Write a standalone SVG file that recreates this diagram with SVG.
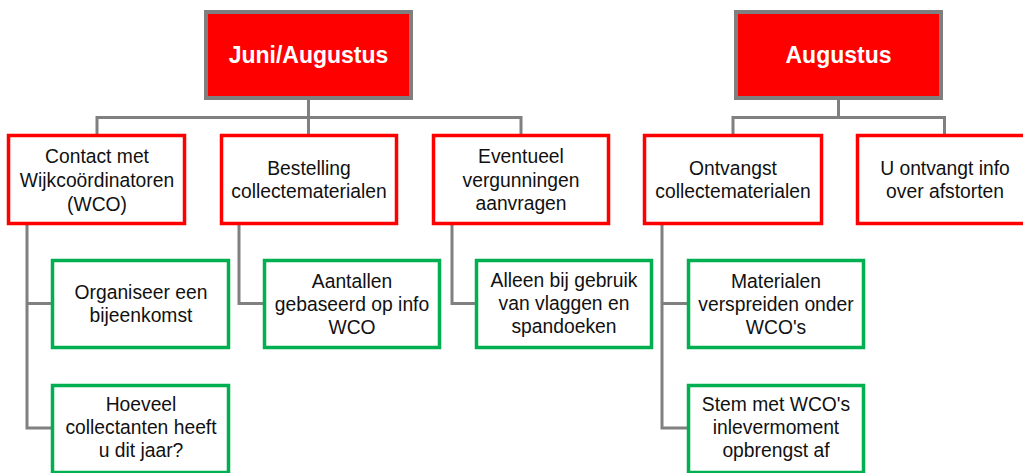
<svg xmlns="http://www.w3.org/2000/svg" width="1023" height="473" viewBox="0 0 1023 473">
<style>
.top{fill:#ff0000;stroke:#7f7f7f;stroke-width:4}
.red{fill:#ffffff;stroke:#ff0000;stroke-width:3.5}
.green{fill:#ffffff;stroke:#00b050;stroke-width:3.5}
.title{font-family:"Liberation Sans",Arial,sans-serif;font-weight:bold;font-size:23px;fill:#ffffff;text-anchor:middle}
.t{font-family:"Liberation Sans",Arial,sans-serif;font-size:19.3px;fill:#111111;text-anchor:middle}
.conn{fill:none;stroke:#808080;stroke-width:3}
</style>
<rect width="1023" height="473" fill="#ffffff"/>
<g id="connectors">
<path class="conn" d="M308.5 100 V117.5 M97 117.5 H521 M97 116 V134 M308.5 116 V134 M521 116 V134"/>
<path class="conn" d="M838.5 100 V117.5 M733 117.5 H944.5 M733 116 V134 M944.5 116 V134"/>
<path class="conn" d="M27 225 V428 H51 M27 303.5 H51"/>
<path class="conn" d="M239 225 V303.5 H263"/>
<path class="conn" d="M452 225 V303.5 H475"/>
<path class="conn" d="M662 225 V428 H687 M662 303.5 H687"/>
</g>
<g id="n-juni"><rect class="top" x="206" y="12" width="205" height="86"/><text class="title" x="308.5" y="63">Juni/Augustus</text></g>
<g id="n-augustus"><rect class="top" x="736" y="12" width="205" height="86"/><text class="title" x="838.5" y="63">Augustus</text></g>
<g id="n-contact"><rect class="red" x="8.5" y="135.5" width="176" height="88"/><text class="t" x="97" y="163">Contact met</text><text class="t" x="97" y="187">Wijkcoördinatoren</text><text class="t" x="97" y="211">(WCO)</text></g>
<g id="n-bestelling"><rect class="red" x="221.5" y="135.5" width="175" height="88"/><text class="t" x="309" y="175">Bestelling</text><text class="t" x="309" y="198">collectematerialen</text></g>
<g id="n-eventueel"><rect class="red" x="433.5" y="135.5" width="175" height="88"/><text class="t" x="521" y="163">Eventueel</text><text class="t" x="521" y="187">vergunningen</text><text class="t" x="521" y="210">aanvragen</text></g>
<g id="n-ontvangst"><rect class="red" x="644.5" y="135.5" width="177" height="88"/><text class="t" x="733" y="175">Ontvangst</text><text class="t" x="733" y="198">collectematerialen</text></g>
<g id="n-uontvangt"><rect class="red" x="857.5" y="135.5" width="176" height="88"/><text class="t" x="945" y="175">U ontvangt info</text><text class="t" x="945" y="198">over afstorten</text></g>
<g id="n-organiseer"><rect class="green" x="52.5" y="260.5" width="176" height="87"/><text class="t" x="141" y="299">Organiseer een</text><text class="t" x="141" y="322">bijeenkomst</text></g>
<g id="n-hoeveel"><rect class="green" x="52.5" y="385.5" width="176" height="87"/><text class="t" x="141" y="411">Hoeveel</text><text class="t" x="141" y="434">collectanten heeft</text><text class="t" x="141" y="457">u dit jaar?</text></g>
<g id="n-aantallen"><rect class="green" x="264.5" y="260.5" width="175" height="87"/><text class="t" x="352" y="288">Aantallen</text><text class="t" x="352" y="311">gebaseerd op info</text><text class="t" x="352" y="334">WCO</text></g>
<g id="n-alleen"><rect class="green" x="476.5" y="260.5" width="175" height="87"/><text class="t" x="564" y="287">Alleen bij gebruik</text><text class="t" x="564" y="310">van vlaggen en</text><text class="t" x="564" y="333">spandoeken</text></g>
<g id="n-materialen"><rect class="green" x="688.5" y="260.5" width="175" height="87"/><text class="t" x="776" y="288">Materialen</text><text class="t" x="776" y="311">verspreiden onder</text><text class="t" x="776" y="334">WCO's</text></g>
<g id="n-stem"><rect class="green" x="688.5" y="385.5" width="175" height="87"/><text class="t" x="776" y="411">Stem met WCO's</text><text class="t" x="776" y="434">inlevermoment</text><text class="t" x="776" y="457">opbrengst af</text></g>
</svg>
